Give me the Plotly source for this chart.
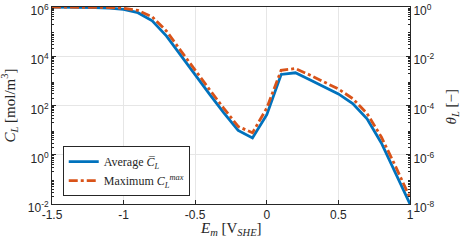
import plotly.graph_objects as go

E_m = [-1.5, -1.4, -1.3, -1.2, -1.1, -1.0, -0.9, -0.8, -0.7, -0.6, -0.5, -0.4, -0.3,
       -0.2, -0.1, 0.0, 0.1, 0.2, 0.3, 0.4, 0.5, 0.6, 0.7, 0.8, 0.9, 1.0]
logC_avg = [6.0, 6.0, 5.99, 5.98, 5.96, 5.90, 5.77, 5.44, 4.82, 4.03, 3.22, 2.46, 1.70,
            0.99, 0.68, 1.63, 3.26, 3.33, 3.05, 2.76, 2.47, 2.08, 1.46, 0.48, -0.75, -2.0]
logC_max = [6.0, 6.0, 6.0, 5.99, 5.98, 5.95, 5.86, 5.60, 5.02, 4.22, 3.42, 2.65, 1.88,
            1.15, 0.89, 1.90, 3.43, 3.50, 3.24, 2.95, 2.67, 2.28, 1.68, 0.72, -0.48, -1.75]
C_avg = [10 ** v for v in logC_avg]
C_max = [10 ** v for v in logC_max]
theta = [c / 1e6 for c in C_avg]

left_ticks = [1e-2, 1e0, 1e2, 1e4, 1e6]
left_text = ["10<sup>-2</sup>", "10<sup>0</sup>", "10<sup>2</sup>", "10<sup>4</sup>", "10<sup>6</sup>"]
right_ticks = [1e-8, 1e-6, 1e-4, 1e-2, 1e0]
right_text = ["10<sup>-8</sup>", "10<sup>-6</sup>", "10<sup>-4</sup>", "10<sup>-2</sup>", "10<sup>0</sup>"]
x_ticks = [-1.5, -1, -0.5, 0, 0.5, 1]
x_text = ["-1.5", "-1", "-0.5", "0", "0.5", "1"]

left_minor = [k * 10.0 ** d for d in range(-2, 6) for k in range(2, 10)]
right_minor = [k * 10.0 ** d for d in range(-8, 0) for k in range(2, 10)]

blue = "#0072BD"
red = "#D95319"
ink = "#262626"
tickfont = dict(family="Liberation Sans, Arial, sans-serif", size=12, color=ink)
serif = "Liberation Serif, Times New Roman, serif"
titlefont = dict(family=serif, size=15, color=ink)

fig = go.Figure()
fig.add_trace(go.Scatter(x=E_m, y=C_avg, mode="lines",
                         line=dict(color=blue, width=2.8),
                         name="Average <i>C̅</i><sub><i>L</i></sub>"))
fig.add_trace(go.Scatter(x=E_m, y=C_max, mode="lines",
                         line=dict(color=red, width=2.8, dash="dashdot"),
                         name="Maximum <i>C</i><sub><i>L</i></sub><sup><i>max</i></sup>"))
fig.add_trace(go.Scatter(x=E_m, y=theta, mode="lines", yaxis="y2",
                         line=dict(width=0), opacity=0, showlegend=False,
                         hoverinfo="skip"))

fig.update_layout(
    width=461, height=245,
    margin=dict(l=52, r=51, t=7, b=41),
    plot_bgcolor="white", paper_bgcolor="white",
    xaxis=dict(range=[-1.5, 1], tickvals=x_ticks, ticktext=x_text, automargin=False,
               showgrid=True, gridcolor="#e6e6e6", gridwidth=1,
               ticks="inside", ticklen=4, tickcolor=ink, ticklabeloverflow="allow",
               showline=True, linecolor=ink, linewidth=1, mirror=True,
               zeroline=False, tickfont=tickfont),
    yaxis=dict(type="log", range=[-2.0005, 6.0005], tickvals=left_ticks, ticktext=left_text,
               automargin=False, ticklabeloverflow="allow", ticklabelshift=4,
               showgrid=True, gridcolor="#e6e6e6", gridwidth=1,
               ticks="inside", ticklen=4, tickcolor=ink,
               minor=dict(tickmode="array", tickvals=left_minor, ticks="inside",
                          ticklen=2, tickcolor=ink, showgrid=False),
               showline=True, linecolor=ink, linewidth=1,
               zeroline=False, tickfont=tickfont),
    yaxis2=dict(type="log", range=[-8.0005, 0.0005], tickvals=right_ticks, ticktext=right_text,
                automargin=False, ticklabeloverflow="allow", ticklabelshift=4,
                overlaying="y", side="right", showgrid=False,
                ticks="inside", ticklen=4, tickcolor=ink,
                minor=dict(tickmode="array", tickvals=right_minor, ticks="inside",
                           ticklen=2, tickcolor=ink, showgrid=False),
                showline=True, linecolor=ink, linewidth=1,
                zeroline=False, tickfont=tickfont),
    legend=dict(x=0.03, y=0.04, xanchor="left", yanchor="bottom",
                bgcolor="white", bordercolor=ink, borderwidth=1,
                font=dict(family=serif, size=12, color=ink),
                tracegroupgap=0),
    showlegend=True,
    annotations=[
        dict(text="<i>E</i><sub><i>m</i></sub> [V<sub><i>SHE</i></sub>]",
             xref="paper", yref="paper", x=0.5, y=-0.125, xanchor="center", yanchor="middle",
             showarrow=False, font=titlefont),
        dict(text="<i>C</i><sub><i>L</i></sub> [mol/m<sup>3</sup>]",
             xref="paper", yref="paper", x=-43 / 358, y=0.5, xanchor="center", yanchor="middle",
             textangle=-90, showarrow=False, font=titlefont),
        dict(text="<i>θ</i><sub><i>L</i></sub> [−]",
             xref="paper", yref="paper", x=1 + 42 / 358, y=0.49, xanchor="center", yanchor="middle",
             textangle=-90, showarrow=False, font=titlefont),
    ],
)

fig.write_html("out.html", post_script="document.body.style.margin='0';",
               config={"displayModeBar": False})
